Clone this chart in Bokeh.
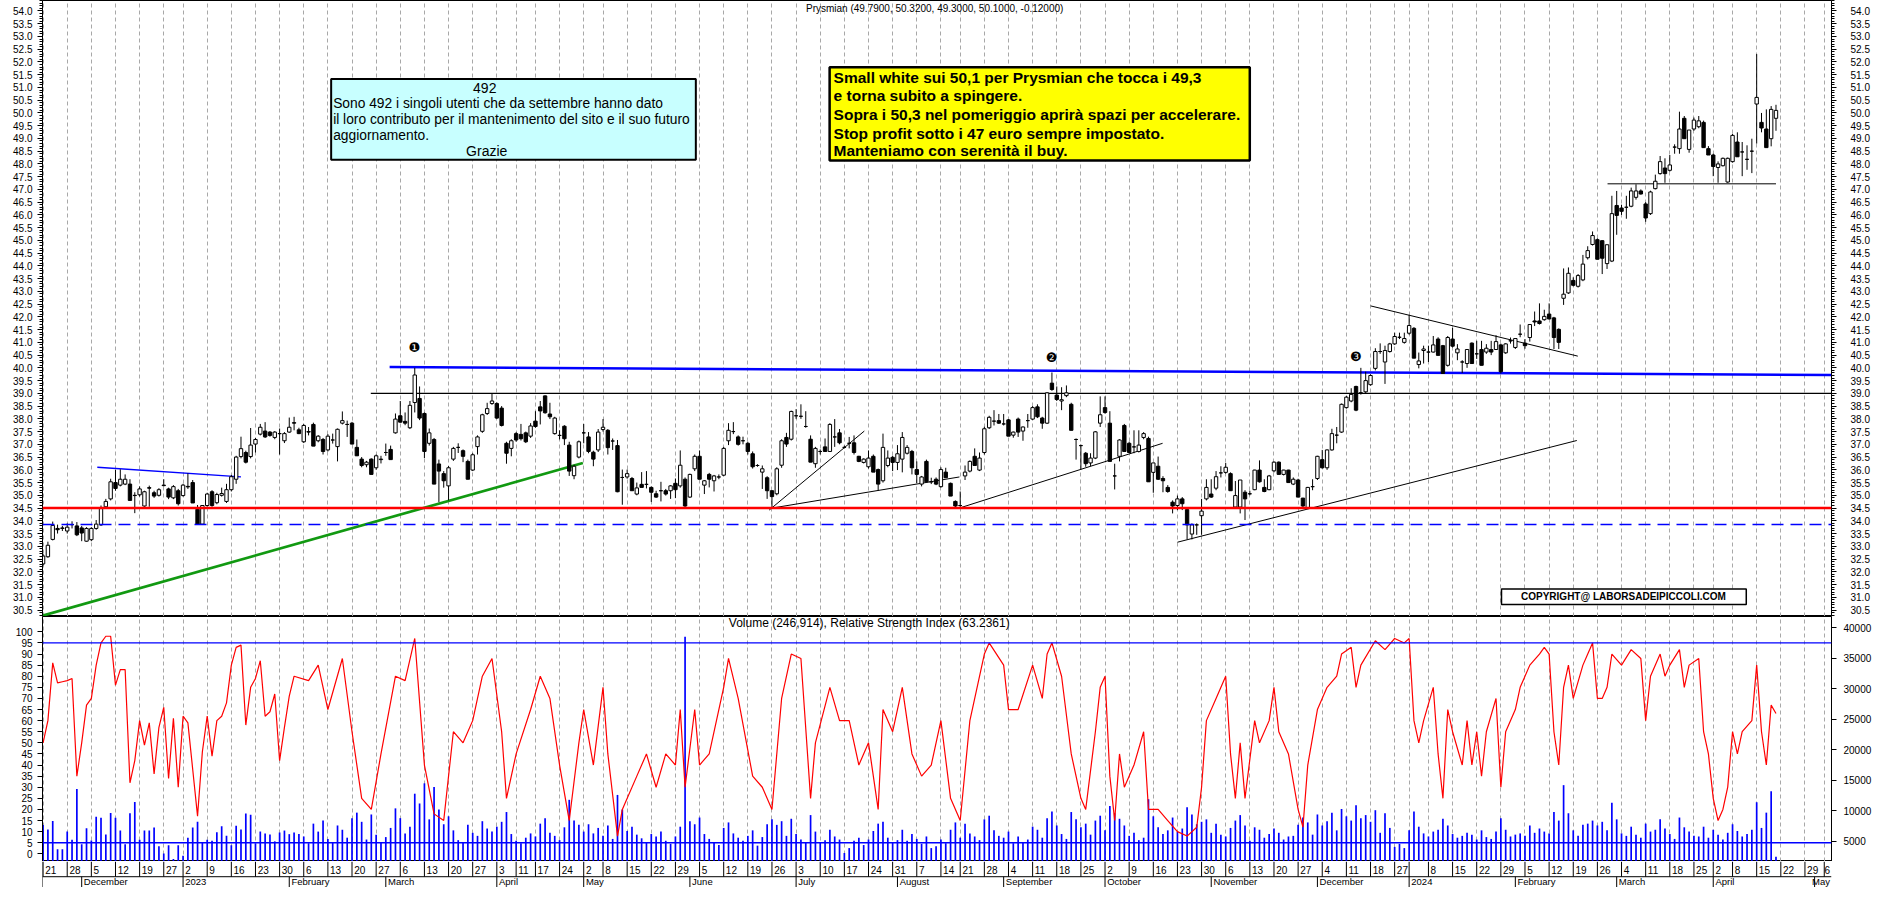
import pandas as pd
from bokeh.plotting import figure
from bokeh.layouts import column
from bokeh.models import (Range1d, LinearAxis, FixedTicker, PrintfTickFormatter, Grid,
                          ColumnDataSource, Span)
from bokeh.core.properties import value
from bokeh.embed import file_html
from bokeh.resources import INLINE

# ---------------- data ----------------
opens = [
 32.31, 32.59, 33.27, 33.70, 33.70, 33.60, 33.85, 33.80, 33.72, 33.20,
 33.26, 33.70, 33.84, 34.55, 34.86, 35.50, 35.40, 35.44, 35.44, 35.00,
 35.02, 34.58, 35.30, 35.10, 35.00, 35.40, 35.25, 34.90, 35.18, 34.99,
 35.35, 35.50, 34.45, 33.87, 34.60, 35.14, 34.71, 35.00, 34.76, 35.22,
 35.63, 36.52, 36.68, 36.52, 37.01, 37.40, 37.52, 37.48, 37.27, 37.42,
 37.14, 37.48, 37.85, 37.57, 37.10, 37.50, 37.78, 37.14, 37.19, 36.78,
 37.17, 36.91, 37.83, 37.78, 37.83, 36.88, 36.42, 36.20, 36.42, 36.08,
 36.40, 36.68, 36.80, 37.45, 38.12, 37.90, 37.65, 38.64, 38.80, 38.21,
 37.04, 37.19, 36.23, 35.85, 35.37, 36.42, 36.88, 36.75, 36.33, 35.99,
 36.91, 37.51, 38.21, 38.60, 38.60, 38.42, 37.04, 36.84, 37.42, 37.39,
 37.45, 37.32, 37.91, 38.47, 38.90, 38.19, 37.42, 37.35, 37.71, 36.97,
 35.77, 36.50, 37.45, 37.29, 36.69, 36.78, 37.58, 37.55, 37.13, 36.95,
 35.70, 35.72, 35.66, 35.05, 35.43, 35.43, 35.31, 35.06, 35.18, 35.18,
 35.18, 35.47, 35.37, 35.63, 34.93, 36.04, 36.53, 35.40, 35.82, 35.57,
 35.72, 35.79, 37.14, 37.50, 37.29, 37.14, 37.04, 36.63, 36.17, 35.91,
 35.69, 35.18, 35.06, 36.18, 37.27, 37.20, 38.12, 38.10, 37.70, 37.20,
 36.24, 36.72, 36.90, 36.72, 37.29, 37.45, 36.88, 37.04, 37.06, 36.53,
 36.29, 36.12, 36.53, 36.01, 35.57, 36.17, 36.49, 36.29, 36.42, 36.65,
 36.72, 36.01, 35.44, 36.33, 35.53, 35.63, 35.34, 35.91, 35.47, 34.76,
 34.60, 35.76, 35.95, 36.53, 35.99, 36.68, 37.65, 37.91, 37.93, 37.80,
 37.96, 37.36, 37.99, 37.52, 37.93, 37.99, 38.47, 38.03, 37.83, 39.40,
 38.93, 38.70, 38.91, 38.57, 37.19, 36.95, 36.65, 36.27, 36.46, 37.83,
 38.44, 37.83, 35.76, 36.53, 37.74, 37.04, 36.90, 36.72, 37.27, 37.23,
 35.90, 36.14, 35.66, 35.31, 34.73, 34.60, 34.86, 34.44, 33.48, 33.84,
 34.20, 34.86, 35.05, 35.28, 35.88, 35.90, 35.85, 34.54, 34.54, 35.12,
 35.06, 35.22, 35.99, 35.31, 35.22, 35.96, 36.30, 35.82, 35.99, 35.44,
 35.60, 34.89, 34.50, 35.34, 35.66, 36.40, 36.08, 36.78, 37.36, 37.48,
 38.44, 38.70, 39.27, 39.02, 39.06, 39.34, 39.98, 40.64, 40.23, 40.64,
 40.94, 41.20, 41.00, 41.36, 41.55, 40.13, 40.68, 40.62, 40.62, 41.13,
 40.87, 40.10, 41.13, 40.59, 40.23, 40.17, 40.97, 40.55, 40.72, 40.62,
 40.72, 40.72, 40.90, 40.59, 41.06, 40.80, 41.32, 40.97, 41.19, 41.84,
 41.84, 41.89, 42.11, 41.96, 41.51, 42.73, 42.94, 43.43, 43.20, 43.45,
 44.32, 44.84, 45.03, 44.99, 44.09, 44.19, 46.37, 46.27, 46.30, 46.34,
 46.69, 46.94, 46.43, 46.05, 47.03, 47.62, 47.84, 47.75, 48.66, 48.60,
 49.79, 48.57, 49.37, 49.46, 49.63, 48.60, 48.35, 47.86, 47.93, 47.29,
 48.09, 48.86, 48.47, 48.18, 48.50, 50.35, 49.63, 49.37, 48.99, 49.79]

highs = [
 32.70, 33.18, 33.97, 33.85, 33.80, 33.90, 33.98, 33.95, 33.80, 33.75,
 33.75, 34.03, 34.60, 34.86, 35.65, 36.00, 36.02, 35.82, 35.63, 35.12,
 35.35, 35.18, 35.38, 35.18, 35.28, 35.63, 35.30, 35.40, 35.25, 35.45,
 35.86, 35.60, 34.62, 34.60, 35.10, 35.20, 35.10, 35.30, 35.45, 35.80,
 36.55, 37.30, 36.75, 37.64, 37.25, 37.80, 37.87, 37.52, 37.52, 37.62,
 37.48, 38.05, 38.08, 37.65, 37.80, 37.68, 37.85, 37.36, 37.25, 37.40,
 37.42, 37.62, 38.29, 37.93, 37.88, 37.19, 36.50, 36.35, 36.45, 36.60,
 36.55, 37.03, 36.95, 38.21, 38.70, 38.25, 38.70, 40.00, 39.27, 38.25,
 37.62, 37.25, 36.40, 35.95, 36.15, 36.90, 37.04, 36.80, 36.40, 36.65,
 37.35, 38.20, 38.63, 38.98, 38.65, 38.50, 37.10, 37.20, 37.48, 37.80,
 37.50, 37.83, 38.30, 38.70, 38.92, 38.63, 38.08, 37.55, 37.75, 37.10,
 36.20, 37.15, 37.80, 37.48, 36.75, 37.60, 37.99, 37.60, 37.23, 37.17,
 36.01, 36.01, 35.72, 35.50, 35.91, 35.95, 35.35, 35.18, 35.53, 35.25,
 35.40, 35.66, 36.76, 35.70, 35.85, 36.60, 36.76, 35.60, 35.88, 35.80,
 35.82, 36.90, 37.83, 37.87, 37.35, 37.30, 37.10, 36.72, 36.22, 36.17,
 35.75, 35.20, 36.10, 37.20, 37.45, 38.32, 38.38, 38.57, 38.30, 37.35,
 36.90, 36.80, 37.23, 37.83, 37.99, 37.60, 36.95, 37.29, 37.35, 36.55,
 36.45, 36.76, 36.60, 36.05, 37.42, 36.76, 36.55, 36.97, 37.48, 36.97,
 36.78, 36.33, 35.76, 36.40, 35.69, 35.70, 36.10, 36.08, 35.50, 34.80,
 35.15, 36.17, 36.37, 36.84, 36.68, 37.69, 38.12, 38.34, 38.19, 38.19,
 37.99, 37.50, 38.05, 37.70, 38.19, 38.50, 38.57, 38.08, 39.05, 39.82,
 39.27, 39.24, 39.31, 38.63, 37.23, 36.99, 36.70, 36.65, 37.52, 38.88,
 38.88, 38.30, 36.24, 37.20, 37.80, 37.10, 37.55, 37.55, 37.48, 37.30,
 36.27, 36.52, 35.75, 35.40, 34.80, 34.99, 34.93, 34.50, 33.90, 33.90,
 34.86, 35.63, 35.63, 35.95, 36.14, 36.27, 35.90, 35.56, 35.60, 35.20,
 35.18, 36.00, 36.37, 35.63, 35.80, 36.33, 36.33, 36.00, 36.00, 35.70,
 35.65, 34.90, 35.33, 35.63, 36.55, 36.78, 36.80, 37.61, 37.68, 38.60,
 38.90, 39.20, 39.30, 40.00, 39.85, 39.75, 40.77, 40.96, 40.87, 40.98,
 41.38, 41.38, 41.38, 42.08, 41.60, 40.60, 40.87, 40.87, 41.25, 41.20,
 40.90, 41.25, 41.57, 40.93, 40.30, 40.72, 41.00, 41.06, 41.06, 40.93,
 41.06, 41.28, 40.95, 40.97, 41.19, 41.15, 41.70, 41.13, 41.70, 42.21,
 42.53, 42.28, 42.53, 42.00, 41.55, 43.90, 43.94, 43.55, 43.68, 44.43,
 44.77, 45.35, 45.08, 45.00, 44.83, 46.75, 46.94, 46.40, 46.75, 47.07,
 47.20, 47.00, 46.50, 46.95, 47.58, 48.31, 48.22, 48.35, 48.77, 50.05,
 49.88, 49.33, 49.82, 49.88, 49.70, 48.70, 48.40, 48.10, 48.25, 48.25,
 49.18, 49.24, 48.86, 48.73, 48.99, 52.31, 50.00, 50.14, 50.27, 50.32]

lows = [
 32.25, 32.55, 33.23, 33.50, 33.60, 33.50, 33.70, 33.40, 33.20, 33.18,
 33.20, 33.65, 33.80, 34.50, 34.80, 35.18, 35.35, 35.40, 34.80, 34.30,
 34.95, 34.55, 34.55, 34.90, 34.95, 35.35, 34.85, 34.85, 34.60, 34.95,
 35.25, 34.70, 33.87, 33.85, 34.55, 34.55, 34.65, 34.95, 34.70, 35.15,
 35.45, 36.45, 36.25, 36.45, 36.68, 37.35, 37.25, 37.30, 37.20, 36.60,
 37.05, 37.45, 37.55, 37.40, 37.05, 37.35, 36.93, 37.08, 36.60, 36.72,
 37.03, 36.33, 37.78, 37.29, 37.01, 36.55, 36.10, 36.10, 35.82, 36.00,
 36.25, 36.55, 36.40, 37.42, 37.85, 37.75, 37.60, 38.25, 37.95, 36.46,
 36.95, 35.44, 34.73, 35.30, 34.80, 36.35, 36.66, 36.30, 35.63, 35.95,
 36.60, 37.45, 38.15, 38.55, 38.00, 37.70, 36.24, 36.53, 37.10, 37.15,
 37.05, 37.25, 37.65, 37.78, 38.20, 37.99, 37.38, 37.19, 36.97, 35.76,
 35.63, 36.45, 37.04, 36.65, 36.14, 36.70, 37.50, 36.60, 36.78, 35.12,
 34.63, 35.65, 35.18, 35.00, 35.31, 35.27, 34.74, 34.90, 34.76, 34.99,
 34.86, 34.89, 35.30, 34.54, 34.90, 35.95, 35.63, 35.05, 35.31, 35.15,
 35.63, 35.75, 36.97, 37.40, 36.95, 37.00, 36.60, 36.05, 36.12, 35.25,
 34.86, 34.48, 35.00, 36.08, 36.90, 37.15, 38.00, 38.00, 37.65, 36.30,
 36.08, 36.60, 36.70, 36.70, 36.90, 37.00, 36.84, 36.84, 36.60, 36.30,
 36.25, 36.05, 35.91, 35.18, 35.50, 36.10, 35.95, 35.99, 35.90, 36.60,
 35.82, 35.48, 35.35, 35.53, 35.44, 35.40, 35.30, 35.69, 34.97, 34.48,
 34.48, 35.60, 35.90, 36.17, 35.95, 36.60, 37.60, 37.74, 37.80, 37.74,
 37.32, 37.26, 37.29, 37.14, 37.65, 37.95, 38.03, 37.61, 37.80, 39.10,
 38.70, 38.34, 38.85, 37.55, 36.40, 36.01, 36.12, 36.14, 36.42, 37.68,
 38.20, 36.33, 35.23, 36.33, 36.72, 36.68, 36.65, 36.68, 37.20, 35.53,
 35.10, 35.60, 35.12, 35.10, 34.29, 34.42, 34.42, 33.27, 33.27, 33.45,
 33.45, 34.80, 34.90, 35.20, 35.70, 35.85, 35.18, 34.50, 34.29, 34.03,
 35.00, 35.20, 35.50, 35.12, 35.20, 35.90, 35.82, 35.78, 35.50, 35.40,
 34.93, 34.50, 34.47, 35.20, 35.60, 36.05, 36.00, 36.75, 37.04, 37.45,
 38.40, 38.65, 38.30, 38.95, 39.00, 39.30, 39.90, 40.55, 39.37, 40.60,
 40.90, 41.13, 40.95, 41.30, 40.38, 39.98, 40.17, 40.23, 40.60, 40.49,
 39.78, 40.05, 40.80, 40.30, 39.80, 40.00, 40.17, 40.35, 40.10, 40.55,
 40.50, 40.70, 39.78, 40.55, 40.95, 40.74, 41.20, 40.75, 41.03, 41.64,
 41.70, 41.85, 41.90, 40.74, 40.74, 42.47, 42.90, 43.20, 43.15, 43.40,
 44.25, 44.80, 44.26, 43.68, 43.88, 44.15, 45.22, 46.00, 45.85, 46.30,
 46.60, 46.80, 45.73, 46.00, 47.00, 47.58, 47.26, 47.70, 48.40, 48.40,
 48.99, 48.44, 49.30, 49.40, 48.64, 48.35, 47.52, 47.26, 47.90, 47.26,
 48.05, 48.28, 47.52, 47.77, 47.64, 48.80, 49.24, 48.64, 48.69, 49.30]

closes = [
 32.62, 33.04, 33.82, 33.65, 33.72, 33.75, 33.85, 33.45, 33.52, 33.70,
 33.70, 33.87, 34.48, 34.76, 35.53, 35.27, 35.63, 35.63, 34.80, 34.99,
 35.25, 35.14, 35.28, 34.97, 35.22, 35.38, 34.93, 35.34, 34.67, 35.40,
 35.33, 34.70, 33.87, 34.60, 35.05, 34.60, 35.03, 35.07, 35.22, 35.73,
 36.50, 36.83, 36.30, 36.97, 37.19, 37.67, 37.29, 37.35, 37.48, 37.42,
 37.42, 37.67, 37.83, 37.42, 37.74, 37.48, 36.93, 37.32, 36.72, 37.32,
 37.17, 37.59, 37.93, 37.78, 37.01, 36.55, 36.17, 36.30, 35.82, 36.55,
 36.42, 36.68, 36.40, 37.99, 37.87, 37.83, 38.53, 39.72, 38.03, 36.72,
 37.45, 35.44, 35.95, 35.57, 36.08, 36.84, 36.88, 36.53, 35.63, 36.59,
 37.29, 38.16, 38.40, 38.70, 38.03, 37.74, 36.65, 37.14, 37.17, 37.22,
 37.10, 37.72, 37.70, 38.31, 38.24, 38.08, 38.03, 37.35, 37.22, 35.95,
 36.14, 37.10, 37.45, 36.72, 36.42, 37.48, 37.67, 36.87, 37.13, 35.14,
 35.70, 35.85, 35.18, 35.29, 35.31, 35.43, 35.12, 34.93, 35.18, 35.05,
 35.37, 35.22, 36.18, 34.58, 35.82, 36.53, 35.63, 35.57, 35.63, 35.76,
 35.72, 36.84, 37.55, 37.50, 37.00, 37.14, 36.72, 36.12, 36.17, 36.04,
 35.18, 34.95, 36.04, 37.14, 37.01, 38.29, 38.12, 38.10, 37.70, 36.30,
 36.84, 36.72, 36.72, 37.78, 37.29, 37.06, 36.88, 37.04, 36.68, 36.33,
 36.42, 36.46, 35.91, 35.44, 36.88, 36.46, 36.29, 36.63, 37.27, 36.88,
 36.08, 35.82, 35.72, 35.53, 35.53, 35.44, 36.01, 35.69, 34.97, 34.58,
 34.60, 35.91, 36.33, 36.17, 36.46, 37.61, 38.06, 37.91, 37.83, 37.80,
 37.32, 37.48, 37.48, 37.68, 37.93, 38.44, 38.08, 37.83, 39.02, 39.15,
 38.76, 38.75, 39.02, 37.55, 37.19, 36.95, 36.24, 36.46, 37.49, 38.16,
 38.25, 36.33, 35.76, 37.17, 36.72, 36.68, 36.90, 36.97, 37.42, 35.53,
 36.27, 35.63, 35.57, 35.15, 34.58, 34.86, 34.67, 33.84, 33.84, 33.84,
 34.38, 35.31, 34.93, 35.73, 35.88, 36.10, 35.18, 34.99, 35.60, 34.86,
 35.06, 35.99, 35.53, 35.15, 35.76, 36.30, 35.82, 35.99, 35.50, 35.63,
 34.93, 34.58, 35.31, 35.34, 36.53, 36.08, 36.78, 37.42, 37.36, 38.57,
 38.85, 38.96, 38.34, 39.02, 39.50, 39.70, 40.64, 40.64, 40.68, 40.94,
 41.23, 41.20, 41.15, 41.66, 40.38, 40.27, 40.74, 40.62, 40.90, 40.49,
 39.78, 41.19, 40.85, 40.74, 40.23, 40.72, 40.17, 40.55, 40.10, 40.77,
 40.62, 41.03, 39.85, 40.94, 41.06, 41.15, 41.32, 40.87, 41.70, 41.80,
 41.74, 42.02, 41.92, 41.19, 41.00, 42.89, 43.71, 43.24, 43.62, 44.07,
 44.60, 45.19, 44.26, 44.30, 44.83, 46.05, 45.98, 46.14, 46.30, 46.94,
 46.94, 46.82, 45.88, 46.90, 47.32, 48.09, 47.62, 47.96, 48.66, 49.37,
 48.99, 49.33, 49.72, 49.69, 48.64, 48.35, 47.90, 48.00, 48.22, 48.22,
 49.12, 48.28, 48.47, 48.18, 48.50, 50.61, 49.41, 48.64, 50.14, 50.10]

# RSI: day index and value of each vertex
rsi_day = list(range(53)) + [
 55, 57, 59, 62, 64, 66, 68, 70, 73, 75, 77, 79, 81, 83, 85, 87, 89, 91, 93, 95,
 96, 98, 101, 103, 105, 107, 109, 111, 112, 114, 116, 117, 119, 120, 123, 125, 127, 129, 131, 132,
 133, 135, 136, 138, 141, 142, 144, 147, 149, 151, 153, 155, 157, 159, 160, 163, 165, 167, 169, 171,
 173, 174, 176, 178, 180, 182, 184, 186, 188, 190, 192, 195, 196, 199, 200, 202, 205, 207, 208, 209,
 211, 213, 215, 216, 218, 219, 220, 221, 222, 223, 224, 226, 228, 229, 231, 233, 235, 237, 239, 240,
 241, 243, 245, 246, 247, 248, 249, 251, 252, 254, 255, 256, 258, 260, 261, 262, 264, 266, 268, 269,
 271, 272, 273, 276, 278, 280, 282, 283, 284, 285, 286, 288, 289, 290, 291, 292, 294, 295, 296, 297,
 298, 299, 301, 302, 303, 305, 306, 308, 310, 311, 312, 313, 314, 315, 316, 317, 319, 320, 321, 322,
 323, 324, 325, 327, 329, 331, 332, 333, 335, 336, 337, 339, 340, 341, 343, 344, 345, 346, 347, 348,
 349, 350, 351, 352, 354, 355, 356, 357, 358, 359]
rsi = [50, 60, 86, 77, 77.5, 78, 79, 35, 50, 67, 70, 85, 95, 98, 98, 76, 83, 83, 32, 42,
       60, 49, 59, 36, 57, 66, 34, 61, 30, 62, 59, 38, 17, 46, 62, 44, 60, 62, 68, 85,
       93, 94, 58, 75, 79, 87, 62, 64, 72, 42, 57, 71, 80] + [
 78, 85, 65, 88, 55, 25, 20, 45, 80, 78, 97, 40, 18, 15, 55, 50, 60, 80, 88, 55,
 25, 45, 65, 80, 70, 40, 15, 50, 65, 40, 75, 45, 8, 20, 35, 45, 30, 45, 40, 65,
 30, 65, 40, 45, 75, 88, 70, 35, 30, 20, 70, 90, 88, 25, 50, 75, 60, 60, 40, 50,
 20, 65, 55, 75, 45, 35, 40, 60, 25, 15, 60, 90, 95, 85, 65, 65, 85, 70, 90, 95,
 80, 45, 25, 20, 55, 75, 80, 35, 15, 45, 30, 40, 55, 20, 20, 15, 10, 8, 12, 30,
 60, 70, 80, 45, 25, 50, 25, 60, 50, 60, 75, 55, 45, 20, 12, 40, 65, 75, 80, 90,
 93, 75, 85, 96, 92, 97, 95, 97, 60, 50, 60, 75, 45, 25, 65, 55, 40, 60, 40, 55,
 35, 55, 70, 30, 55, 65, 75, 85, 90, 93, 90, 55, 40, 75, 85, 70, 85, 90, 95, 70,
 70, 75, 90, 85, 92, 88, 60, 80, 90, 80, 85, 92, 75, 85, 88, 55, 45, 25, 15, 20,
 30, 55, 45, 55, 60, 85, 55, 40, 67, 63.24]

# volume in hundreds of shares, one bar per trading day
volume = [
 7680, 6930, 8330, 3710, 3710, 6610, 5270, 13570, 4520, 7140,
 5160, 9020, 8860, 6130, 9660, 8860, 6770, 4520, 9620, 11430,
 5270, 6770, 6770, 7250, 4200, 3020, 4360, 2100, 4360, 2640,
 5590, 7250, 8230, 4840, 5270, 5100, 6500, 7460, 5910, 4360,
 7570, 6930, 9560, 9340, 4680, 6610, 6290, 6130, 5000, 6450,
 6770, 6180, 6450, 6200, 5800, 4700, 7900, 6600, 8400, 5400,
 4800, 7600, 6900, 5600, 8800, 9700, 8200, 5300, 9400, 6100,
 4900, 5700, 7200, 10400, 8800, 6300, 7400, 12800, 11200, 14500,
 8600, 13900, 10200, 7800, 9100, 6800, 5200, 4800, 7700, 6400,
 5900, 8300, 7100, 6600, 7400, 8200, 9800, 6200, 5100, 4700,
 5600, 6300, 5800, 7900, 8800, 6400, 5900, 5200, 7300, 11800,
 8400, 7700, 6600, 7800, 6300, 7200, 5900, 7600, 5400, 12600,
 10200, 6700, 7400, 6100, 5500, 4900, 6200, 5800, 6600, 5100,
 4600, 5800, 7400, 38500, 8300, 7800, 8900, 6200, 5400, 4800,
 4400, 7200, 8100, 6300, 5600, 5100, 5900, 6800, 4300, 5700,
 7800, 8600, 7700, 8300, 5900, 8700, 6200, 5300, 4900, 9300,
 6600, 4800, 5200, 6900, 5800, 5300, 3100, 3900, 5100, 5600,
 4400, 5300, 6700, 7900, 8200, 5600, 4800, 5200, 6900, 5100,
 6200, 5400, 4600, 5800, 3900, 4200, 5300, 4700, 6900, 8100,
 5600, 7900, 6300, 5800, 5200, 8600, 9200, 6800, 5900, 5600,
 6600, 4700, 5800, 4900, 5300, 7400, 6900, 5600, 8800, 9900,
 7600, 6200, 5400, 9800, 8600, 7300, 7900, 6100, 8400, 9200,
 6800, 10800, 9600, 8700, 7600, 5900, 6400, 5200, 5600, 11900,
 9100, 7300, 6200, 6800, 8900, 6600, 7100, 10600, 9400, 7800,
 8200, 8600, 6400, 7900, 6100, 5800, 7200, 8400, 9300, 7600,
 5100, 7300, 6900, 5600, 6200, 7100, 6400, 5300, 5800, 5900,
 7700, 8900, 8100, 6100, 9400, 7600, 8300, 9700, 6800, 10300,
 9100, 8400, 10900, 8800, 9300, 8200, 10100, 6400, 9600, 7200,
 4100, 4600, 3900, 6800, 9900, 7400, 6300, 5800, 6600, 6900,
 8700, 7600, 6200, 5600, 5900, 6400, 6100, 5300, 6800, 5700,
 5400, 6600, 8800, 6900, 5800, 6100, 6300, 5900, 7600, 6400,
 7100, 6600, 6300, 9800, 8400, 14200, 9600, 6800, 5900, 7700,
 7900, 8400, 7600, 8200, 6800, 11300, 8600, 6300, 5900, 7400,
 6100, 5600, 7900, 6600, 6900, 8600, 7100, 6200, 5400, 8900,
 7300, 6600, 5900, 5800, 7400, 5600, 6900, 6100, 5300, 6400,
 7800, 6700, 5800, 6200, 6900, 11400, 7200, 9700, 13200, 2469]

holidays = ["2022-12-26", "2023-04-07", "2023-04-10", "2023-05-01", "2023-08-15",
            "2023-12-25", "2023-12-26", "2024-01-01", "2024-03-29", "2024-04-01", "2024-05-01"]
month_names = {1: None, 2: "February", 3: "March", 4: "April", 5: "May", 6: "June", 7: "July",
               8: "August", 9: "September", 10: "October", 11: "November", 12: "December"}

title_text = "Prysmian (49.7900, 50.3200, 49.3000, 50.1000, -0.12000)"
lower_title = "Volume (246,914), Relative Strength Index (63.2361)"
cyan_lines = ["Sono 492 i singoli utenti che da settembre hanno dato",
              "il loro contributo per il mantenimento del sito e il suo futuro",
              "aggiornamento."]
yellow_lines = ["Small white sui 50,1 per Prysmian che tocca i 49,3",
                "e torna subito a spingere.",
                "Sopra i 50,3 nel pomeriggio aprirà spazi per accelerare.",
                "Stop profit sotto i 47 euro sempre impostato.",
                "Manteniamo con serenità il buy."]

# ---------------- geometry helpers (reference pixel -> data) ----------------
W = 1874
H_MAIN, H_LOW, H_DATE = 616, 245, 26
Y_SPLIT, Y_DATE = 627.1, 876.5
X_LO, X_HI = -0.12, 370.5
def px2x(px): return (px - 43.3) / 4.871
def py2p(py): return 30.5 + (620.5 - py) / 25.95
def py2r(py): return (868.7 - py) / 2.26
def py2v(py): return 5000 + (856.0 - py) / 31.1 * 5000

FONT = "Liberation Sans"

# trading calendar
days = [d for d in pd.bdate_range("2022-11-21", "2024-05-10") if d.strftime("%Y-%m-%d") not in holidays]
days = days[:372]
week_starts, month_starts = [], []
for i, d in enumerate(days):
    if i == 0 or d.isocalendar()[1] != days[i - 1].isocalendar()[1]:
        week_starts.append(i)
    if i > 0 and d.month != days[i - 1].month:
        month_starts.append(i)

def clear_grids(fig):
    fig.center = [r for r in fig.center if not isinstance(r, Grid)]

def week_grid(fig):
    fig.add_layout(Grid(dimension=0, ticker=FixedTicker(ticks=week_starts),
                        grid_line_color="#a8a8a8", grid_line_dash="4 3", grid_line_width=1))

def style_axis(ax, ticks, minors=(), fmt=None, standoff=5):
    ax.ticker = FixedTicker(ticks=list(ticks), minor_ticks=list(minors))
    ax.major_label_text_font = FONT
    ax.major_label_text_font_size = "10px"
    ax.major_label_text_color = "black"
    ax.major_tick_out = 5
    ax.major_tick_in = 0
    ax.minor_tick_out = 3
    ax.minor_tick_in = 0
    ax.axis_line_color = "black"
    ax.major_tick_line_color = "black"
    ax.minor_tick_line_color = "black"
    ax.major_label_standoff = standoff
    if fmt:
        ax.formatter = PrintfTickFormatter(format=fmt)

xr = Range1d(X_LO, X_HI)
common = dict(width=W, x_range=xr, output_backend="svg", toolbar_location=None,
              x_axis_location=None, y_axis_location=None,
              min_border_left=42, min_border_right=42, min_border_top=0, min_border_bottom=0)

# ---------------- main price panel ----------------
p = figure(height=H_MAIN, y_range=Range1d(py2p(Y_SPLIT), py2p(0)), **common)
clear_grids(p)
week_grid(p)
p.outline_line_color = "black"

price_ticks = [30.5 + 0.5 * k for k in range(48)]
price_minor = [round(30.3 + 0.1 * k, 1) for k in range(242)]
for side, so in (("left", 5), ("right", 14)):
    ax = LinearAxis()
    style_axis(ax, price_ticks, price_minor, "%.1f", so)
    p.add_layout(ax, side)

# reference lines
p.add_layout(Span(location=34.5, dimension="width", line_color="#ff0000", line_width=2.5))
p.add_layout(Span(location=33.85, dimension="width", line_color="#0000ff", line_width=1.5,
                  line_dash="12 7"))
p.segment(x0=[px2x(374)], y0=[39.0], x1=[X_HI], y1=[39.0], line_color="black", line_width=1.2)
p.segment(x0=[px2x(393)], y0=[40.03], x1=[X_HI], y1=[39.72], line_color="#0000ff", line_width=2.5)
p.segment(x0=[px2x(98)], y0=[36.1], x1=[px2x(243)], y1=[35.72], line_color="#0000ff", line_width=1.3)
p.segment(x0=[px2x(43)], y0=[30.28], x1=[px2x(588)], y1=[36.27], line_color="#119911", line_width=2.7)
p.segment(x0=[px2x(776), px2x(776), px2x(968), px2x(1188), px2x(1383), px2x(1622)],
          y0=[34.42, 34.48, 34.5, 33.16, 42.43, 47.22],
          x1=[px2x(872), px2x(968), px2x(1173), px2x(1591), px2x(1592), px2x(1792)],
          y1=[37.52, 35.72, 37.04, 37.15, 40.46, 47.22],
          line_color="black", line_width=1)

# candles
idx = list(range(len(closes)))
src = ColumnDataSource(dict(
    x=idx, o=opens, h=highs, l=lows, c=closes,
    top=[max(a, b) for a, b in zip(opens, closes)],
    bot=[min(a, b) for a, b in zip(opens, closes)],
    fill=["white" if c >= o else "black" for o, c in zip(opens, closes)]))
p.segment(x0="x", y0="h", x1="x", y1="l", source=src, line_color="black", line_width=1)
p.vbar(x="x", width=0.7, top="top", bottom="bot", fill_color="fill", line_color="black",
       line_width=1, source=src)

# markers 1 2 3
p.text(x=[px2x(418), px2x(1061), px2x(1368)], y=[py2p(353), py2p(363), py2p(362)],
       text=["\u2776", "\u2777", "\u2778"], text_font=value("DejaVu Sans"),
       text_font_size=value("13px"), text_align="center", text_baseline="middle", text_color="black")

# title
p.text(x=[px2x(943)], y=[py2p(8)], text=[title_text], text_font=value(FONT),
       text_font_size=value("10px"), text_align="center", text_baseline="middle", text_color="black")

# cyan box
p.quad(left=[px2x(334)], right=[px2x(702)], top=[py2p(80)], bottom=[py2p(162)],
       fill_color="#c8ffff", line_color="black", line_width=2)
p.text(x=[px2x(489), px2x(491)], y=[py2p(89), py2p(153)], text=["492", "Grazie"],
       text_font=value(FONT), text_font_size=value("14px"), text_align="center",
       text_baseline="middle", text_color="black")
p.text(x=[px2x(336)] * 3, y=[py2p(105), py2p(121), py2p(137)], text=cyan_lines,
       text_font=value(FONT), text_font_size=value("13.8px"), text_align="left",
       text_baseline="middle", text_color="black")

# yellow box
p.quad(left=[px2x(837)], right=[px2x(1261)], top=[py2p(68)], bottom=[py2p(163)],
       fill_color="#ffff00", line_color="black", line_width=2.5)
p.text(x=[px2x(841)] * 5, y=[py2p(v) for v in (78, 97, 116, 135, 153)], text=yellow_lines,
       text_font=value(FONT), text_font_size=value("15.5px"), text_font_style="bold",
       text_align="left", text_baseline="middle", text_color="black")

# copyright box
p.quad(left=[px2x(1515)], right=[px2x(1762)], top=[py2p(599)], bottom=[py2p(615)],
       fill_color="white", line_color="black", line_width=1.5)
p.text(x=[px2x(1638)], y=[py2p(607)], text=["COPYRIGHT@ LABORSADEIPICCOLI.COM"],
       text_font=value(FONT), text_font_size=value("10px"), text_font_style="bold",
       text_align="center", text_baseline="middle", text_color="black")

# ---------------- lower panel: volume + RSI ----------------
p2 = figure(height=H_LOW, y_range=Range1d(py2r(Y_DATE), py2r(Y_SPLIT)), **common)
clear_grids(p2)
week_grid(p2)
p2.outline_line_color = "black"
p2.extra_y_ranges = {"vol": Range1d(py2v(Y_DATE), py2v(Y_SPLIT))}
axl = LinearAxis()
style_axis(axl, range(0, 101, 5), (), None, 5)
p2.add_layout(axl, "left")
axr = LinearAxis(y_range_name="vol")
style_axis(axr, range(5000, 40001, 5000), (), None, 7)
p2.add_layout(axr, "right")

p2.vbar(x=list(range(len(volume))), top=volume, bottom=0, width=0.35, fill_color="#0000ff",
        line_color=None, y_range_name="vol")
p2.add_layout(Span(location=95, dimension="width", line_color="#0000ff", line_width=1.3))
p2.add_layout(Span(location=5, dimension="width", line_color="#0000ff", line_width=1.3))
p2.line(x=rsi_day, y=rsi, line_color="#ff0000", line_width=1.2)
p2.text(x=[px2x(877)], y=[py2r(634)], text=[lower_title], text_font=value(FONT),
        text_font_size=value("12px"), text_align="center", text_baseline="middle", text_color="black")

# ---------------- date axis strip ----------------
p3 = figure(height=H_DATE, y_range=Range1d(903, Y_DATE), **common)
clear_grids(p3)
p3.outline_line_color = None
ws_lab = [i for k, i in enumerate(week_starts) if k == 0 or i - week_starts[k - 1] >= 4]
day_txt = [str(days[i].day) for i in ws_lab]
day_x, day_al = [], []
for i, t in zip(ws_lab, day_txt):
    wid = (len(t) * 5.6 + 1) / 4.871
    if i + 0.45 + wid > X_HI:
        day_x.append(X_HI - 0.3); day_al.append("right")
    else:
        day_x.append(i + 0.45); day_al.append("left")
p3.segment(x0=week_starts, y0=[Y_DATE] * len(week_starts), x1=week_starts, y1=[892] * len(week_starts),
           line_color="black", line_width=1)
p3.text(x=day_x, y=[885] * len(ws_lab), text=day_txt, text_align=day_al,
        text_font=value(FONT), text_font_size=value("10px"),
        text_baseline="middle", text_color="black")
p3.segment(x0=[X_LO], y0=[892], x1=[X_HI], y1=[892], line_color="black", line_width=1)
p3.segment(x0=[X_LO], y0=[Y_DATE], x1=[X_LO], y1=[903], line_color="black", line_width=1)
p3.segment(x0=month_starts, y0=[892] * len(month_starts), x1=month_starts, y1=[903] * len(month_starts),
           line_color="black", line_width=1)
mlab = [month_names[days[i].month] or str(days[i].year) for i in month_starts]
m_x, m_al = [], []
for i, t in zip(month_starts, mlab):
    wid = (len(t) * 5.6 + 2) / 4.871
    if i + 0.45 + wid > X_HI:
        m_x.append(X_HI - 0.3); m_al.append("right")
    else:
        m_x.append(i + 0.45); m_al.append("left")
p3.text(x=m_x, y=[897.3] * len(month_starts), text=mlab, text_align=m_al,
        text_font=value(FONT), text_font_size=value("9.5px"),
        text_baseline="middle", text_color="black")

layout = column(p, p2, p3, spacing=0)
open("out.html", "w").write(file_html(layout, INLINE))
